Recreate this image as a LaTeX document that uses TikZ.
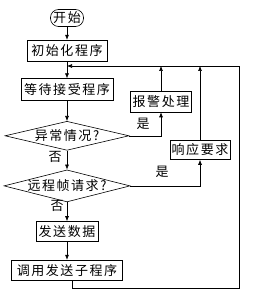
\documentclass[tikz,border=0pt]{standalone}
\usepackage{fontspec}
\newfontfamily\cjk[LetterSpace=12]{Noto Sans CJK SC}
\usetikzlibrary{arrows.meta,positioning,shapes.geometric}

\begin{document}
\begin{tikzpicture}[
  x=1pt, y=1pt,
  font=\cjk\fontsize{13}{15}\selectfont,
  line width=0.6pt,
  box/.style={draw, inner sep=1.5pt, minimum height=21pt},
  cond/.style={draw, diamond, aspect=4, inner sep=-2pt,
               minimum width=124pt, minimum height=29pt},
  arr/.style={-{Latex[length=5pt,width=4pt]}}
]
  \useasboundingbox (0,0) rectangle (256,-299);
  \node[draw, rounded corners=8pt, minimum width=33pt, minimum height=17pt,
        inner sep=0pt] (start) at (67,-18) {开始};
  \node[box, below=13pt of start, minimum width=80pt] (init) {初始化程序};
  \node[box, below=17pt of init, minimum width=92pt, minimum height=22pt] (wait) {等待接受程序};
  \node[cond, below=20pt of wait] (abn) {异常情况?};
  \node[cond, below=19pt of abn, minimum width=126pt, minimum height=32pt] (remote) {远程帧请求?};
  \node[box, below=19pt of remote, minimum width=62pt, minimum height=20pt] (send) {发送数据};
  \node[box, below=18pt of send, minimum width=111pt, minimum height=20pt] (call) {调用发送子程序};
  \node[box, minimum width=61pt] (alarm) at (161,-101.5) {报警处理};
  \node[box, minimum width=60pt, minimum height=19pt] (resp) at (200,-150) {响应要求};
  % labels
  \node (yes1) at (143,-124) {是};
  \node (no1) at (55,-157) {否};
  \node (yes2) at (162,-172) {是};
  \node (no2) at (57,-206) {否};
  % loop back
  \coordinate (ne) at (239,-66);
  \coordinate (se) at (239,-288);
  \coordinate (join) at (init.south |- ne);
  \draw[arr] (start) -- (init);
  \draw[arr] (init) -- (wait);
  \draw[arr] (wait) -- (abn);
  \draw[arr] (abn) -- (remote);
  \draw[arr] (remote) -- (send);
  \draw[arr] (send) -- (call);
  \draw[arr] (abn.east) -| (alarm.south);
  \draw[arr] (alarm.north) -- (alarm.north |- ne);
  \draw[arr] (remote.east) -| (resp.south);
  \draw[arr] (resp.north) -- (resp.north |- ne);
  \draw[arr] ([xshift=5pt]call.south) |- (se) -- (ne) -- (join);
\end{tikzpicture}
\end{document}
